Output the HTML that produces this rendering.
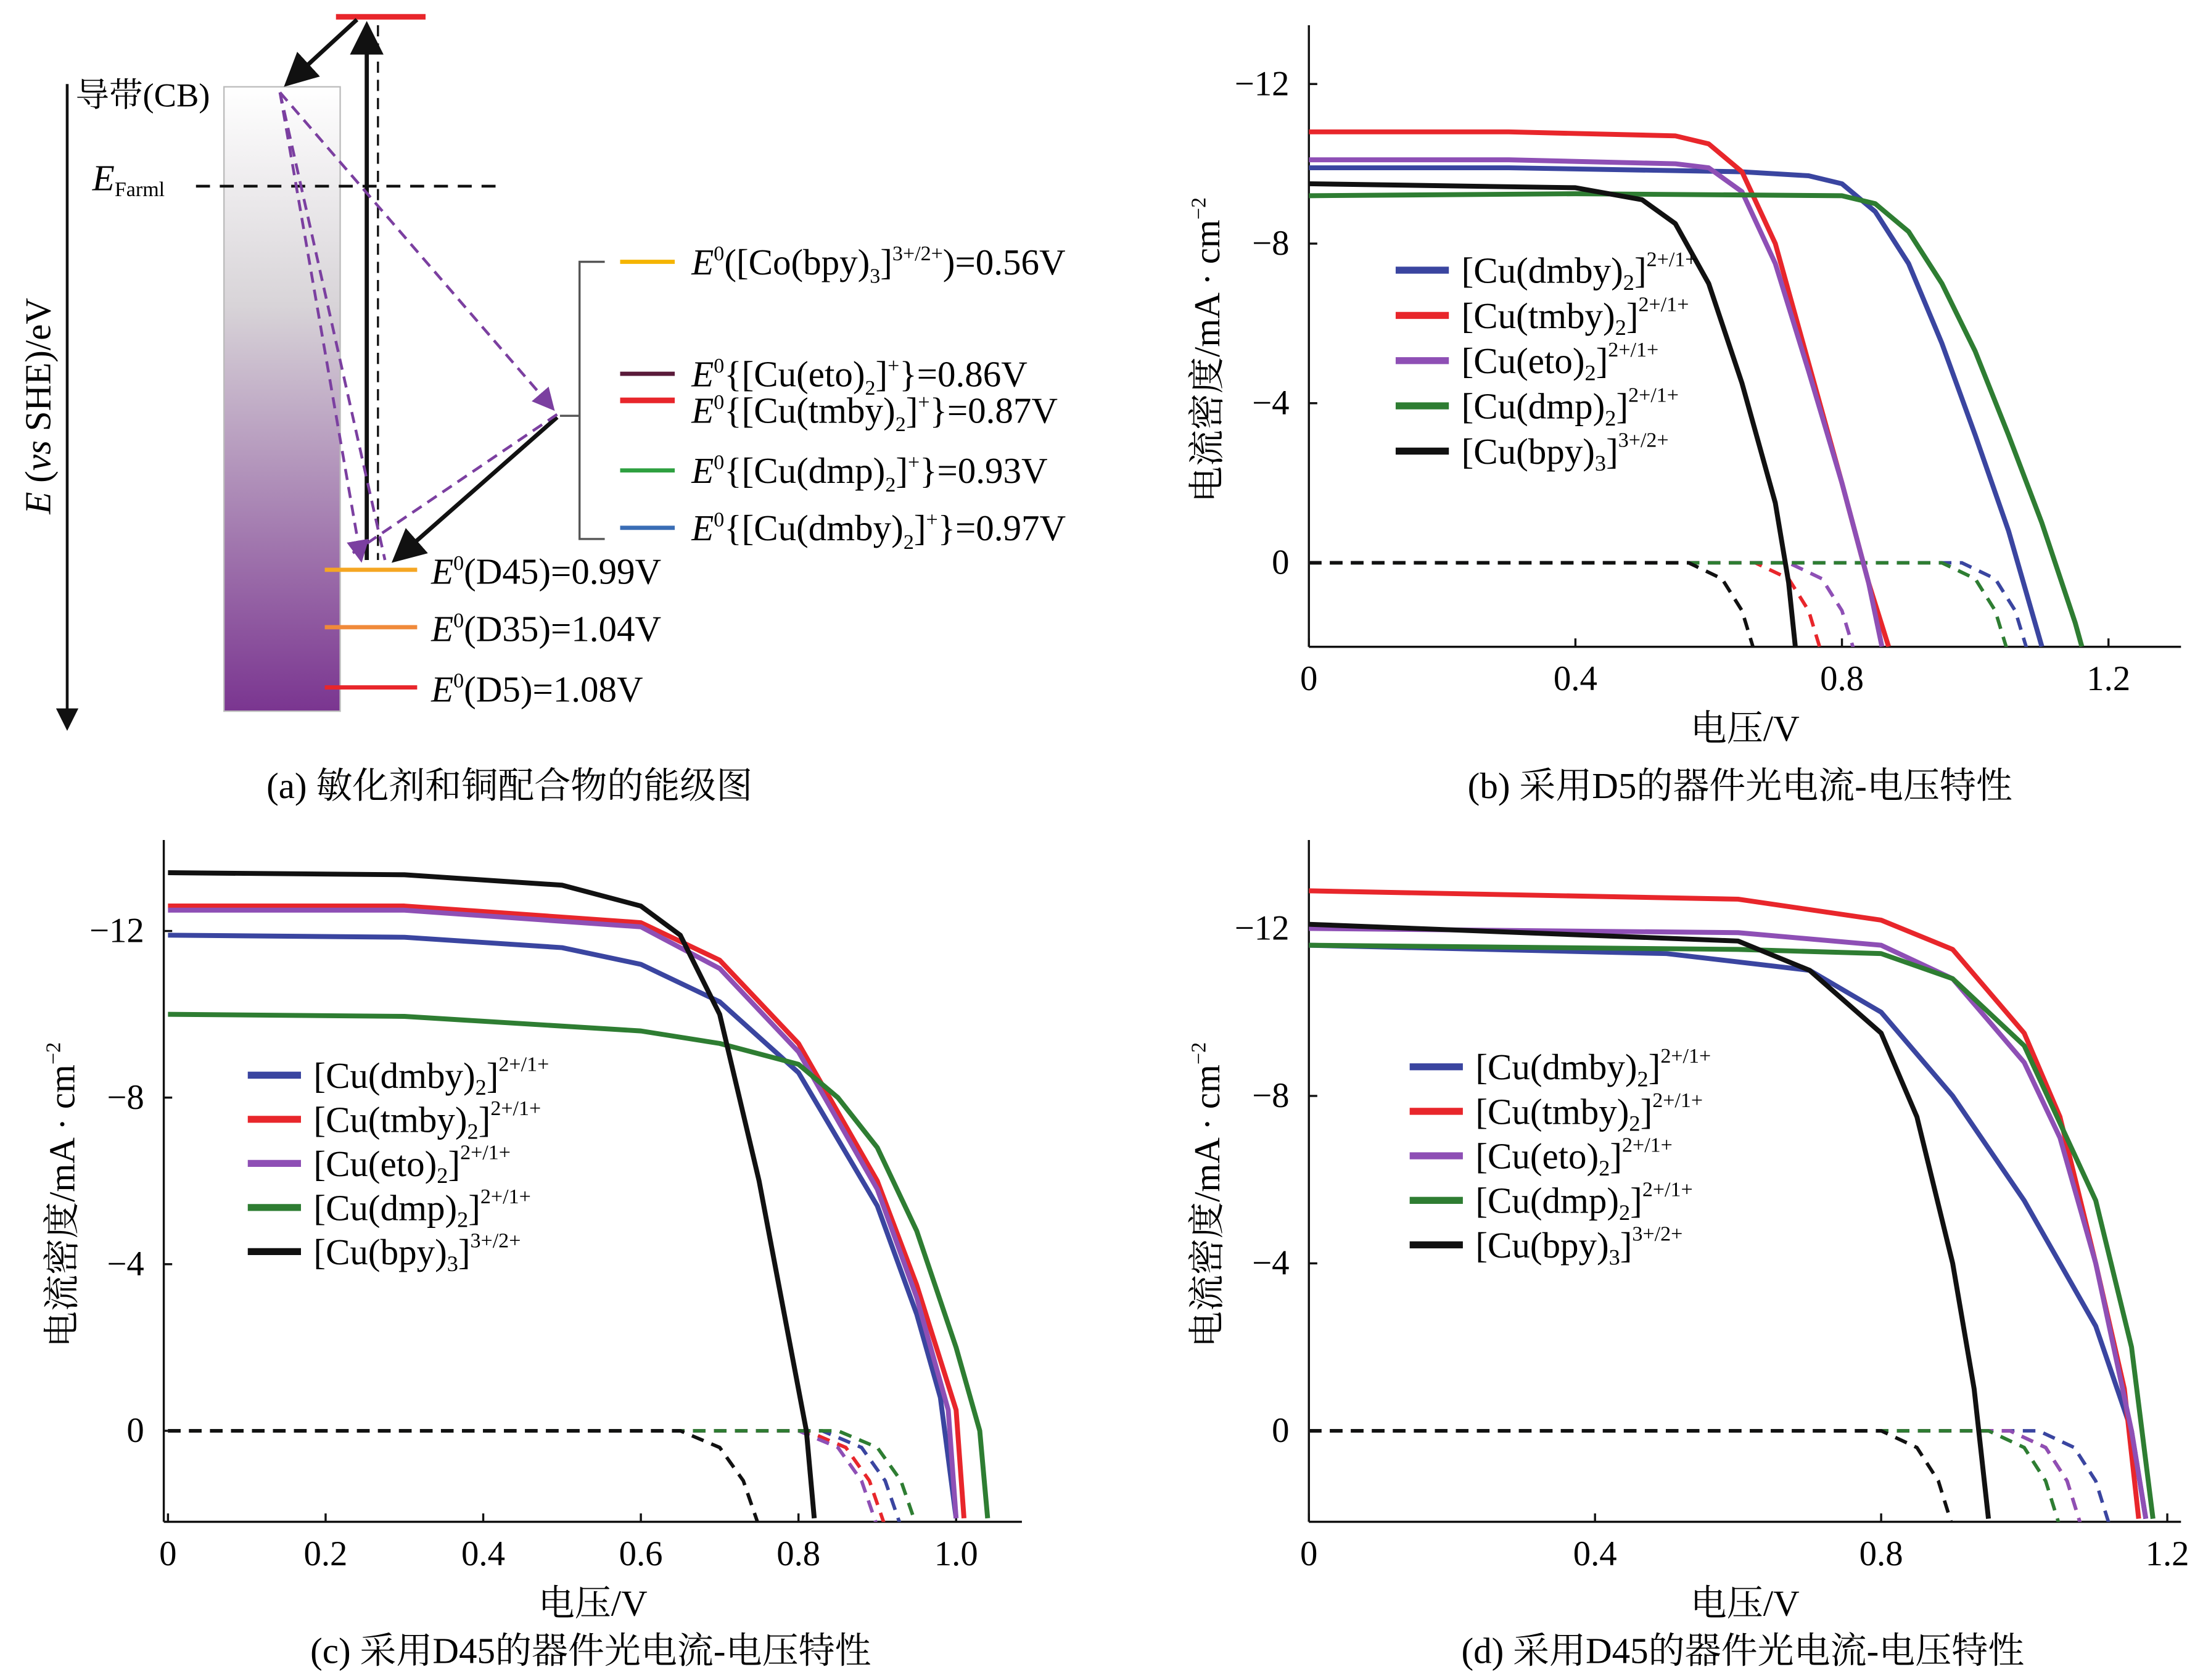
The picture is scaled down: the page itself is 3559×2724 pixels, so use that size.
<!DOCTYPE html>
<html><head><meta charset="utf-8"><style>
html,body{margin:0;padding:0;background:#fff;}
svg{display:block;font-family:"Liberation Serif","Noto Serif CJK SC",serif;}
</style></head><body>
<svg id="fig" width="3559" height="2724" viewBox="0 0 1568 1200" preserveAspectRatio="none" xmlns="http://www.w3.org/2000/svg">
<defs>
<linearGradient id="cbg" x1="0" y1="0" x2="0" y2="1">
<stop offset="0" stop-color="#ffffff"/><stop offset="0.35" stop-color="#d8d4d8"/><stop offset="1" stop-color="#7a3590"/>
</linearGradient>
<marker id="ah" markerWidth="8" markerHeight="8" refX="7" refY="4" orient="auto"><path d="M0,0 L8,4 L0,8 z" fill="#111"/></marker>
<marker id="ahp" markerWidth="8" markerHeight="8" refX="7" refY="4" orient="auto"><path d="M0,0 L8,4 L0,8 z" fill="#7b3fa0"/></marker>
</defs>
<g id="panel-a">
<line x1="48" y1="60" x2="48" y2="520" stroke="#111" stroke-width="2" marker-end="url(#ah)"/>
<text transform="translate(36,290) rotate(-90)" text-anchor="middle" font-size="26"><tspan font-style="italic">E</tspan> (<tspan font-style="italic">vs</tspan> SHE)/eV</text>
<rect x="160" y="62" width="83" height="446" fill="url(#cbg)" stroke="#bbb"/>
<text x="54" y="76" font-size="24">导带(CB)</text>
<text x="66" y="136" font-size="26" font-style="italic">E<tspan font-size="15" font-style="normal" dy="4">Farml</tspan></text>
<line x1="140" y1="133" x2="360" y2="133" stroke="#111" stroke-width="2" stroke-dasharray="10,7"/>
<line x1="240" y1="12" x2="304" y2="12" stroke="#e8262b" stroke-width="4"/>
<line x1="255" y1="14" x2="205" y2="60" stroke="#111" stroke-width="3" marker-end="url(#ah)"/>
<line x1="262" y1="400" x2="262" y2="18" stroke="#111" stroke-width="3" marker-end="url(#ah)"/>
<line x1="270" y1="18" x2="270" y2="400" stroke="#111" stroke-width="1.5" stroke-dasharray="8,5"/>
<line x1="398" y1="298" x2="282" y2="400" stroke="#111" stroke-width="3" marker-end="url(#ah)"/>
<path d="M200,66 L258,400" stroke="#7b3fa0" stroke-width="2" stroke-dasharray="8,5" fill="none" marker-end="url(#ahp)"/>
<path d="M200,66 L275,400" stroke="#7b3fa0" stroke-width="2" stroke-dasharray="8,5" fill="none"/>
<path d="M200,66 L395,292" stroke="#7b3fa0" stroke-width="2" stroke-dasharray="8,5" fill="none" marker-end="url(#ahp)"/>
<path d="M398,296 L252,395" stroke="#7b3fa0" stroke-width="2" stroke-dasharray="8,5" fill="none"/>
<line x1="232" y1="407" x2="298" y2="407" stroke="#f5a623" stroke-width="3"/>
<line x1="232" y1="448" x2="298" y2="448" stroke="#f08a3a" stroke-width="3"/>
<line x1="232" y1="491" x2="298" y2="491" stroke="#e8262b" stroke-width="3"/>
<g font-size="26">
<text x="308" y="417"><tspan font-style="italic">E</tspan><tspan font-size="15" dy="-10">0</tspan><tspan dy="10">(D45)=0.99V</tspan></text>
<text x="308" y="458"><tspan font-style="italic">E</tspan><tspan font-size="15" dy="-10">0</tspan><tspan dy="10">(D35)=1.04V</tspan></text>
<text x="308" y="501"><tspan font-style="italic">E</tspan><tspan font-size="15" dy="-10">0</tspan><tspan dy="10">(D5)=1.08V</tspan></text>
</g>
<path d="M432,187 L414,187 L414,385 L432,385 M400,297 L414,297" stroke="#555" stroke-width="1.5" fill="none"/>
<line x1="443" y1="187" x2="482" y2="187" stroke="#f5b400" stroke-width="3"/>
<line x1="443" y1="267" x2="482" y2="267" stroke="#5a1a3a" stroke-width="3"/>
<line x1="443" y1="286" x2="482" y2="286" stroke="#e8262b" stroke-width="4"/>
<line x1="443" y1="336" x2="482" y2="336" stroke="#2ea040" stroke-width="3"/>
<line x1="443" y1="377" x2="482" y2="377" stroke="#3a6db5" stroke-width="3"/>
<g font-size="26">
<text x="494" y="196"><tspan font-style="italic">E</tspan><tspan font-size="15" dy="-10">0</tspan><tspan dy="10">([Co(bpy)</tspan><tspan font-size="15" dy="6">3</tspan><tspan dy="-6">]</tspan><tspan font-size="15" dy="-10">3+/2+</tspan><tspan dy="10">)=0.56V</tspan></text>
<text x="494" y="276"><tspan font-style="italic">E</tspan><tspan font-size="15" dy="-10">0</tspan><tspan dy="10">{[Cu(eto)</tspan><tspan font-size="15" dy="6">2</tspan><tspan dy="-6">]</tspan><tspan font-size="15" dy="-10">+</tspan><tspan dy="10">}=0.86V</tspan></text>
<text x="494" y="302"><tspan font-style="italic">E</tspan><tspan font-size="15" dy="-10">0</tspan><tspan dy="10">{[Cu(tmby)</tspan><tspan font-size="15" dy="6">2</tspan><tspan dy="-6">]</tspan><tspan font-size="15" dy="-10">+</tspan><tspan dy="10">}=0.87V</tspan></text>
<text x="494" y="345"><tspan font-style="italic">E</tspan><tspan font-size="15" dy="-10">0</tspan><tspan dy="10">{[Cu(dmp)</tspan><tspan font-size="15" dy="6">2</tspan><tspan dy="-6">]</tspan><tspan font-size="15" dy="-10">+</tspan><tspan dy="10">}=0.93V</tspan></text>
<text x="494" y="386"><tspan font-style="italic">E</tspan><tspan font-size="15" dy="-10">0</tspan><tspan dy="10">{[Cu(dmby)</tspan><tspan font-size="15" dy="6">2</tspan><tspan dy="-6">]</tspan><tspan font-size="15" dy="-10">+</tspan><tspan dy="10">}=0.97V</tspan></text>
</g>
<text x="364" y="570" font-size="26" text-anchor="middle">(a) 敏化剂和铜配合物的能级图</text>
</g>
<text x="1243" y="570" font-size="26" text-anchor="middle">(b) 采用D5的器件光电流-电压特性</text>
<text x="422" y="1188" font-size="26" text-anchor="middle">(c) 采用D45的器件光电流-电压特性</text>
<text x="1245" y="1188" font-size="26" text-anchor="middle">(d) 采用D45的器件光电流-电压特性</text>
</svg>
<script>
// Panel B (D5)
const bXTicks = [0, 0.4, 0.8, 1.2];
const bYTicks = [-12, -8, -4, 0];
const bV_dmby = [0, 0.3, 0.65, 0.75, 0.8, 0.85, 0.9, 0.95, 1.0, 1.05, 1.1];
const bJ_dmby = [-9.9, -9.9, -9.8, -9.7, -9.5, -8.8, -7.5, -5.5, -3.2, -0.8, 2.1];
const bV_tmby = [0, 0.3, 0.55, 0.6, 0.65, 0.7, 0.75, 0.8, 0.84, 0.87];
const bJ_tmby = [-10.8, -10.8, -10.7, -10.5, -9.8, -8.0, -5.0, -2.0, 0.5, 2.1];
const bV_eto = [0, 0.3, 0.55, 0.6, 0.65, 0.7, 0.75, 0.8, 0.84, 0.86];
const bJ_eto = [-10.1, -10.1, -10.0, -9.9, -9.3, -7.5, -4.8, -2.0, 0.5, 2.1];
const bV_dmp = [0, 0.4, 0.8, 0.85, 0.9, 0.95, 1.0, 1.05, 1.1, 1.15, 1.16];
const bJ_dmp = [-9.2, -9.25, -9.2, -9.0, -8.3, -7.0, -5.3, -3.2, -1.0, 1.5, 2.1];
const bV_bpy = [0, 0.4, 0.5, 0.55, 0.6, 0.65, 0.7, 0.72, 0.73];
const bJ_bpy = [-9.5, -9.4, -9.1, -8.5, -7.0, -4.5, -1.5, 0.5, 2.1];
const bDashEnd = [1.08, 0.77, 0.82, 1.05, 0.67];
// Panel C (D45)
const cXTicks = [0, 0.2, 0.4, 0.6, 0.8, 1.0];
const cYTicks = [-12, -8, -4, 0];
const cV_dmby = [0, 0.3, 0.5, 0.6, 0.7, 0.8, 0.9, 0.95, 0.98, 1.0];
const cJ_dmby = [-11.9, -11.85, -11.6, -11.2, -10.3, -8.6, -5.4, -2.8, -0.8, 2.1];
const cV_tmby = [0, 0.3, 0.6, 0.7, 0.8, 0.9, 0.95, 1.0, 1.01];
const cJ_tmby = [-12.6, -12.6, -12.2, -11.3, -9.3, -6.0, -3.5, -0.5, 2.1];
const cV_eto = [0, 0.3, 0.6, 0.7, 0.8, 0.9, 0.95, 0.99, 1.0];
const cJ_eto = [-12.5, -12.5, -12.1, -11.1, -9.1, -5.8, -3.2, -0.5, 2.1];
const cV_dmp = [0, 0.3, 0.6, 0.7, 0.8, 0.85, 0.9, 0.95, 1.0, 1.03, 1.04];
const cJ_dmp = [-10.0, -9.95, -9.6, -9.3, -8.8, -8.0, -6.8, -4.8, -2.0, 0.0, 2.1];
const cV_bpy = [0, 0.3, 0.5, 0.6, 0.65, 0.7, 0.75, 0.78, 0.81, 0.82];
const cJ_bpy = [-13.4, -13.35, -13.1, -12.6, -11.9, -10.0, -6.0, -3.0, 0.0, 2.1];
const cDashEnd = [0.93, 0.91, 0.9, 0.95, 0.75];
// Panel D (D45)
const dXTicks = [0, 0.4, 0.8, 1.2];
const dYTicks = [-12, -8, -4, 0];
const dV_dmby = [0, 0.5, 0.7, 0.8, 0.9, 1.0, 1.1, 1.15, 1.17];
const dJ_dmby = [-11.6, -11.4, -11.0, -10.0, -8.0, -5.5, -2.5, 0.0, 2.1];
const dV_tmby = [0, 0.6, 0.8, 0.9, 1.0, 1.05, 1.1, 1.14, 1.16];
const dJ_tmby = [-12.9, -12.7, -12.2, -11.5, -9.5, -7.5, -4.0, -1.0, 2.1];
const dV_eto = [0, 0.6, 0.8, 0.9, 1.0, 1.05, 1.1, 1.15, 1.17];
const dJ_eto = [-12.0, -11.9, -11.6, -10.8, -8.8, -7.0, -4.0, 0.0, 2.1];
const dV_dmp = [0, 0.6, 0.8, 0.9, 1.0, 1.1, 1.15, 1.18];
const dJ_dmp = [-11.6, -11.5, -11.4, -10.8, -9.2, -5.5, -2.0, 2.1];
const dV_bpy = [0, 0.6, 0.7, 0.8, 0.85, 0.9, 0.93, 0.95];
const dJ_bpy = [-12.1, -11.7, -11.0, -9.5, -7.5, -4.0, -1.0, 2.1];
const dDashEnd = [1.12, 1.08, 1.08, 1.05, 0.9];

const seriesNames = ['dmby', 'tmby', 'eto', 'dmp', 'bpy'];
const seriesLabels = ['[Cu(dmby)₂]', '[Cu(tmby)₂]', '[Cu(eto)₂]', '[Cu(dmp)₂]', '[Cu(bpy)₃]'];
const seriesSups = ['2+/1+', '2+/1+', '2+/1+', '2+/1+', '3+/2+'];
const colors = ['#3a45a0', '#e8262b', '#8e4fb5', '#2e7d32', '#111111'];

const NS = 'http://www.w3.org/2000/svg';
const svg = document.getElementById('fig');
function mk(tag, attrs, parent) {
  const e = document.createElementNS(NS, tag);
  for (const k in attrs) e.setAttribute(k, attrs[k]);
  parent.appendChild(e);
  return e;
}
function fmt(v) { return v < 0 ? '−' + Math.abs(v) : String(v); }

function panel(id, cfg) {
  const g = mk('g', {}, svg);
  
  
  const X = v => cfg.x0 + v * cfg.xs;
  const Y = j => cfg.y0 + j * cfg.ys;
  const clip = mk('clipPath', { id: id + '-clip' }, g);
  mk('rect', { x: cfg.left, y: cfg.top, width: cfg.right - cfg.left, height: cfg.bottom - cfg.top }, clip);
  const yAxis = mk('line', { x1: cfg.left, y1: cfg.top, x2: cfg.left, y2: cfg.bottom, stroke: '#111', 'stroke-width': 1.5 }, g);
  
  
  const xAxis = mk('line', { x1: cfg.left, y1: cfg.bottom, x2: cfg.right, y2: cfg.bottom, stroke: '#111', 'stroke-width': 1.5 }, g);
  
  
  cfg.xt.forEach(v => {
    mk('line', { x1: X(v), y1: cfg.bottom, x2: X(v), y2: cfg.bottom - 6, stroke: '#111', 'stroke-width': 1.5 }, g);
    const t = mk('text', { x: X(v), y: cfg.bottom + 31, 'font-size': 25, 'text-anchor': 'middle' }, g);
    t.textContent = v.toFixed(v === 0 ? 0 : 1);
    
    
  });
  cfg.yt.forEach(v => {
    mk('line', { x1: cfg.left, y1: Y(v), x2: cfg.left + 6, y2: Y(v), stroke: '#111', 'stroke-width': 1.5 }, g);
    const t = mk('text', { x: cfg.left - 14, y: Y(v) + 8, 'font-size': 25, 'text-anchor': 'end' }, g);
    t.textContent = fmt(v);
    
    
  });
  const xt = mk('text', { x: (cfg.left + cfg.right) / 2, y: cfg.bottom + 67, 'font-size': 26, 'text-anchor': 'middle' }, g);
  xt.textContent = '电压/V';
  
  
  const yt = mk('text', { transform: `translate(${cfg.left - 64},${(cfg.top + cfg.bottom) / 2 + 10}) rotate(-90)`, 'font-size': 26, 'text-anchor': 'middle' }, g);
  yt.innerHTML = '电流密度/mA · cm<tspan font-size="15" dy="-10">−2</tspan>';
  
  
  const pg = mk('g', { 'clip-path': `url(#${id}-clip)` }, g);
  cfg.series.forEach((s, i) => {
    const e = cfg.dash[i];
    const dv = [0, e - 0.1, e - 0.05, e - 0.02, e];
    const dj = [0, 0, 0.4, 1.2, 2.3];
    const dp = mk('polyline', { points: dv.map((v, k) => X(v) + ',' + Y(dj[k])).join(' '), fill: 'none', stroke: colors[i], 'stroke-width': 2.5, 'stroke-dasharray': '9,6' }, pg);
    
    
  });
  cfg.series.forEach((s, i) => {
    const p = mk('polyline', { points: s[0].map((v, k) => X(v) + ',' + Y(s[1][k])).join(' '), fill: 'none', stroke: colors[i], 'stroke-width': 3.5, 'stroke-linejoin': 'round' }, pg);
    
    
  });
  seriesNames.forEach((n, i) => {
    const y = cfg.ly + i * cfg.lstep;
    const l = mk('line', { x1: cfg.lx, y1: y, x2: cfg.lx + 38, y2: y, stroke: colors[i], 'stroke-width': 5 }, g);
    
    
    const t = mk('text', { x: cfg.lx + 47, y: y + 9, 'font-size': 26 }, g);
    t.innerHTML = seriesLabels[i].replace(/[₂₃]/, m => `<tspan font-size="16" dy="5">${m === '₂' ? 2 : 3}</tspan><tspan dy="-5">`) + `</tspan><tspan font-size="15" dy="-12">${seriesSups[i]}</tspan>`;
    
    
  });
}
panel('panel-b', { x0: 935, xs: 476, y0: 402, ys: 28.5, left: 935, right: 1558, top: 18, bottom: 462, xt: bXTicks, yt: bYTicks,
  series: [[bV_dmby, bJ_dmby], [bV_tmby, bJ_tmby], [bV_eto, bJ_eto], [bV_dmp, bJ_dmp], [bV_bpy, bJ_bpy]], dash: bDashEnd, lx: 997, ly: 193, lstep: 32.3 });
panel('panel-c', { x0: 120, xs: 563, y0: 1022, ys: 29.75, left: 117, right: 730, top: 600, bottom: 1087, xt: cXTicks, yt: cYTicks,
  series: [[cV_dmby, cJ_dmby], [cV_tmby, cJ_tmby], [cV_eto, cJ_eto], [cV_dmp, cJ_dmp], [cV_bpy, cJ_bpy]], dash: cDashEnd, lx: 177, ly: 768, lstep: 31.5 });
panel('panel-d', { x0: 935, xs: 511, y0: 1022, ys: 29.9, left: 935, right: 1558, top: 600, bottom: 1087, xt: dXTicks, yt: dYTicks,
  series: [[dV_dmby, dJ_dmby], [dV_tmby, dJ_tmby], [dV_eto, dJ_eto], [dV_dmp, dJ_dmp], [dV_bpy, dJ_bpy]], dash: dDashEnd, lx: 1007, ly: 762, lstep: 31.8 });
</script>
</body></html>
